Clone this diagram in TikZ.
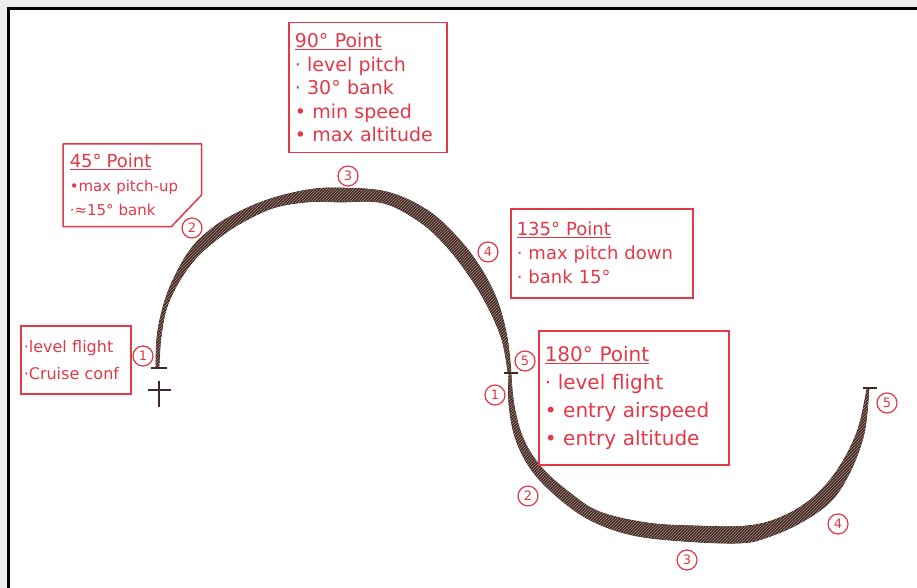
\documentclass[tikz,border=0pt]{standalone}
\usepackage{xcolor}
\usepackage{fontspec}
\setmainfont{DejaVu Sans}
\usepackage{tikz}
\usetikzlibrary{patterns}

\definecolor{penred}{RGB}{226,56,72}
\definecolor{inkbrown}{RGB}{66,40,34}
\definecolor{hatchbrown}{RGB}{170,146,136}
\definecolor{scangray}{RGB}{236,236,236}

\begin{document}
\begin{tikzpicture}[x=1pt,y=-1pt,
  notebox/.style={draw=penred,line width=1.5pt,text=penred,anchor=north west,
    inner xsep=6pt,inner ysep=0pt,align=left},
  stepmark/.style={circle,draw=penred,line width=1.2pt,text=penred,inner sep=0pt,
    minimum size=20pt,font=\fontsize{13}{13}\selectfont},
  tickmark/.style={draw=inkbrown,line width=1.3pt},
  ribbon/.style={fill=inkbrown,draw=inkbrown,line width=0.7pt,line join=round,
    postaction={pattern=north east lines,pattern color=hatchbrown}}]
\path[use as bounding box] (0,0) rectangle (917,588);
\path[fill=scangray] (0,0) rectangle (917,588);
\path[fill=white] (8.7,8.7) rectangle (917,588);
\draw[black,line width=2.7pt] (917,8.7) -- (8.7,8.7) -- (8.7,588);
% first turn, climbing and back down
\path[ribbon] plot[smooth,tension=0.6] coordinates {(156,367) (157,337) (163,307) (173,280) (190,250) (210,230) (233,215) (267,200) (307,190) (340,188) (387,192) (427,210) (457,237) (480,267) (497,300) (507,337) (511,373)}
  -- plot[smooth,tension=0.6] coordinates {(508,373) (502,340) (488,307) (470,277) (447,247) (420,222) (383,203) (340,202) (307,202) (273,208) (243,222) (220,237) (197,257) (180,280) (167,307) (161,337) (159,367)} -- cycle;
% second turn, diving and back up
\path[ribbon] plot[smooth,tension=0.6] coordinates {(509,373) (509,405) (516,440) (533,472) (561,500) (592,521) (632,535) (682,541) (740,543) (768,537) (800,523) (830,502) (849,474) (864,434) (869,388)}
  -- plot[smooth,tension=0.6] coordinates {(867,388) (857,432) (836,472) (810,500) (779,518) (746,526) (698,526) (648,523) (600,512) (570,493) (541,467) (523,438) (514,405) (511,373)} -- cycle;
% ticks
\draw[tickmark] (151,368) -- (167,368);
\draw[tickmark] (148,390) -- (171,390);
\draw[tickmark] (159,381) -- (159,407);
\draw[tickmark] (504,373) -- (518,373);
\draw[tickmark] (863,388) -- (877,388);
% notes
\node[notebox,minimum height=130pt,text width=146pt,font=\fontsize{19}{23.5}\selectfont] (b90) at (288,22)
  {\underline{90° Point}\\· level pitch\\· 30° bank\\• min speed\\• max altitude};
\node[notebox,draw=none,minimum height=81pt,text width=125pt,font=\fontsize{15}{24}\selectfont] (b45) at (63,144)
  {{\fontsize{18}{24}\selectfont\underline{45° Point}}\\•max pitch-up\\·≈15° bank};
\draw[penred,line width=1.5pt,line join=round] (b45.north west) -- (b45.north east) -- ([yshift=-51pt]b45.north east)
  -- ([xshift=-30pt]b45.south east) -- (b45.south west) -- cycle;
\node[notebox,minimum height=89pt,text width=170pt,font=\fontsize{18}{24}\selectfont] (b135) at (510,208)
  {\underline{135° Point}\\· max pitch down\\· bank 15°};
\node[notebox,inner xsep=3pt,minimum height=68pt,text width=104pt,font=\fontsize{16}{27}\selectfont] (bstart) at (20,325)
  {·level flight\\·Cruise conf};
\node[notebox,minimum height=134pt,text width=178pt,font=\fontsize{20}{28}\selectfont] (b180) at (538,330)
  {\underline{180° Point}\\· level flight\\• entry airspeed\\• entry altitude};
% step numbers
\node[stepmark] (a1) at (143,356) {1};
\node[stepmark] (a2) at (192,228) {2};
\node[stepmark] (a3) at (348,176) {3};
\node[stepmark] (a4) at (488,252) {4};
\node[stepmark] (a5) at (525,361) {5};
\node[stepmark] (b1) at (495,395) {1};
\node[stepmark] (b2) at (528,496) {2};
\node[stepmark] (b3) at (687,560) {3};
\node[stepmark] (b4) at (838,524) {4};
\node[stepmark] (b5) at (887,403) {5};
\end{tikzpicture}
\end{document}
